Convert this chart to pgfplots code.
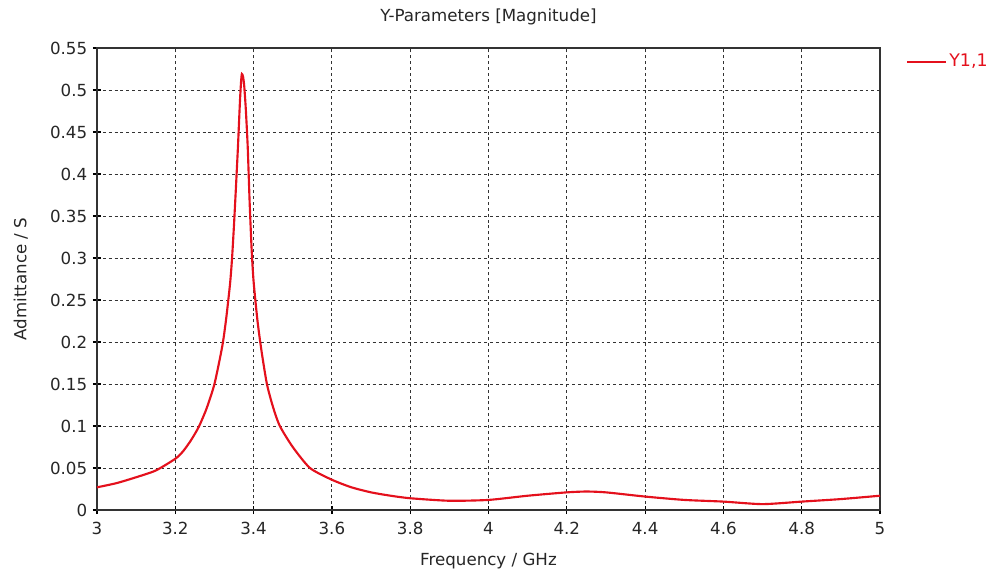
\documentclass[border=0pt]{standalone}
\usepackage{fontspec}
\setmainfont{DejaVu Sans}
\usepackage{pgfplots}
\pgfplotsset{compat=1.18}
\definecolor{cstred}{RGB}{228,16,28}
\begin{document}
\fontsize{12.5}{14.5}\selectfont
\begin{tikzpicture}[x=0.75pt,y=0.75pt]
\path[use as bounding box] (-97,-62) rectangle (903,510);
\begin{axis}[
  at={(0,0)}, anchor=south west,
  scale only axis,
  width=587.25pt, height=346.5pt,
  xmin=3, xmax=5, ymin=0, ymax=0.55,
  xtick={3,3.2,...,5.01},
  ytick={0,0.05,...,0.551},
  xticklabels={3,3.2,3.4,3.6,3.8,4,4.2,4.4,4.6,4.8,5},
  yticklabels={0,0.05,0.1,0.15,0.2,0.25,0.3,0.35,0.4,0.45,0.5,0.55},
  /pgf/number format/assume math mode=true,
  ticklabel style={font=\fontsize{12.5}{14.5}\selectfont, text=black!85},
  xticklabel style={yshift=-2pt},
  tick align=center,
  major tick length=6pt,
  xtick pos=bottom, ytick pos=left,
  tick style={black, line width=0.9pt},
  grid=major,
  major grid style={black!80, dash pattern=on 2.2pt off 2.2pt, line width=0.7pt},
  axis line style={black!80, line width=0.9pt},
  xlabel={Frequency / GHz},
  ylabel={Admittance / S},
  xlabel style={font=\fontsize{12.5}{14.5}\selectfont, text=black!85, yshift=-5pt},
  ylabel style={font=\fontsize{12.5}{14.5}\selectfont, text=black!85, yshift=8pt},
  title={Y-Parameters [Magnitude]},
  title style={font=\fontsize{12.5}{14.5}\selectfont, text=black!85, yshift=7pt},
  legend style={at={(1.028,0.97)}, anchor=west, draw=none, fill=none,
    font=\fontsize{13}{15}\selectfont, text=cstred},
  legend cell align=left,
  legend image code/.code={\draw[#1, line width=1.4pt] (0pt,0pt) -- (29pt,0pt);},
]
\addplot[cstred, line width=1.6pt, smooth, tension=0.4] coordinates {
(3.00,0.027) (3.05,0.032) (3.10,0.039) (3.15,0.047) (3.20,0.061)
(3.22,0.070) (3.24,0.083) (3.26,0.099) (3.28,0.121) (3.30,0.150) (3.32,0.195)
(3.33,0.228) (3.34,0.270) (3.345,0.300) (3.35,0.340) (3.355,0.385)
(3.36,0.432) (3.365,0.485) (3.368,0.510) (3.370,0.519) (3.373,0.516)
(3.376,0.505) (3.38,0.478) (3.385,0.432) (3.39,0.365) (3.395,0.310)
(3.40,0.272) (3.41,0.225) (3.42,0.190) (3.434,0.150) (3.45,0.122)
(3.467,0.100) (3.50,0.075) (3.544,0.050) (3.60,0.036) (3.65,0.027)
(3.70,0.021) (3.75,0.017) (3.80,0.014) (3.90,0.011) (4.00,0.012)
(4.10,0.017) (4.20,0.021) (4.25,0.022) (4.30,0.021) (4.40,0.016)
(4.50,0.012) (4.60,0.010) (4.70,0.007) (4.80,0.010) (4.90,0.013)
(5.00,0.017)
};
\addlegendentry{Y1,1}
\end{axis}
\end{tikzpicture}
\end{document}
